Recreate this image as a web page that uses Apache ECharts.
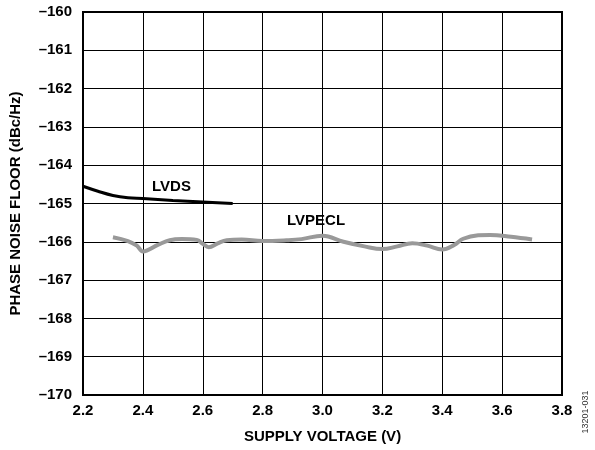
<!DOCTYPE html>
<html>
<head>
<meta charset="utf-8">
<script src="https://cdn.jsdelivr.net/npm/echarts@6/dist/echarts.min.js"></script>
<style>
  html, body { margin: 0; padding: 0; background: #fff; }
  #chart { width: 595px; height: 450px; }
</style>
</head>
<body>
<div id="chart"></div>
<script>
// supply voltage (V) vs phase noise floor (dBc/Hz)
const lvdsX = [2.2, 2.25, 2.3, 2.35, 2.4, 2.5, 2.6, 2.7];
const lvdsY = [-164.55, -164.68, -164.79, -164.85, -164.87, -164.92, -164.96, -165.0];

const lvpeclX = [2.3, 2.35, 2.38, 2.4, 2.45, 2.49, 2.53, 2.58, 2.6, 2.62, 2.65, 2.68, 2.73, 2.8, 2.88,
  2.93, 3.0, 3.07, 3.14, 3.2, 3.25, 3.3, 3.35, 3.4, 3.44, 3.47, 3.52, 3.56, 3.63, 3.7];
const lvpeclY = [-165.88, -165.98, -166.1, -166.25, -166.08, -165.96, -165.93, -165.95, -166.05, -166.14,
  -166.04, -165.96, -165.94, -165.98, -165.96, -165.93, -165.84, -166.0, -166.12, -166.19, -166.12,
  -166.04, -166.1, -166.2, -166.08, -165.92, -165.83, -165.82, -165.87, -165.94];

const font = "'Liberation Sans', Arial, sans-serif";
const fmtNeg = v => (v < 0 ? "\u2013" + Math.abs(v) : String(v));

const chart = echarts.init(document.getElementById("chart"), null, { renderer: "canvas" });
chart.setOption({
  animation: false,
  backgroundColor: "#fff",
  grid: {
    left: 82, right: 33, top: 12, bottom: 55,
    show: true, borderColor: "#000", borderWidth: 2
  },
  xAxis: {
    type: "value",
    min: 2.2, max: 3.8, interval: 0.2,
    name: "SUPPLY VOLTAGE (V)",
    nameLocation: "middle",
    nameGap: 34,
    nameTextStyle: { fontFamily: font, fontWeight: "bold", fontSize: 15, color: "#000" },
    axisLine: { show: true, lineStyle: { color: "#000", width: 2 } },
    axisTick: { show: false },
    splitLine: { show: true, lineStyle: { color: "#000", width: 1 } },
    axisLabel: {
      margin: 8,
      fontFamily: font, fontWeight: "bold", fontSize: 15, color: "#000",
      formatter: v => v.toFixed(1)
    }
  },
  yAxis: {
    type: "value",
    min: -170, max: -160, interval: 1,
    name: "PHASE NOISE FLOOR (dBc/Hz)",
    nameLocation: "middle",
    nameRotate: 90,
    nameGap: 60,
    nameTextStyle: { fontFamily: font, fontWeight: "bold", fontSize: 15, color: "#000" },
    axisLine: { show: true, lineStyle: { color: "#000", width: 2 } },
    axisTick: { show: false },
    splitLine: { show: true, lineStyle: { color: "#000", width: 1 } },
    axisLabel: {
      margin: 11,
      fontFamily: font, fontWeight: "bold", fontSize: 15, color: "#000",
      formatter: fmtNeg
    }
  },
  series: [
    {
      name: "LVDS",
      type: "line",
      smooth: 0.4,
      showSymbol: false,
      data: lvdsX.map((x, i) => [x, lvdsY[i]]),
      lineStyle: { color: "#000", width: 3 },
      z: 3
    },
    {
      name: "LVPECL",
      type: "line",
      smooth: 0.4,
      showSymbol: false,
      data: lvpeclX.map((x, i) => [x, lvpeclY[i]]),
      lineStyle: { color: "#999", width: 4 },
      z: 2
    }
  ],
  graphic: [
    {
      type: "text", left: 152, top: 179,
      style: { text: "LVDS", font: "bold 15px " + font, fill: "#000" }
    },
    {
      type: "text", left: 287, top: 213,
      style: { text: "LVPECL", font: "bold 15px " + font, fill: "#000" }
    },
    {
      type: "text", x: 586, y: 412, rotation: Math.PI / 2,
      style: {
        text: "13201-031", font: "9px " + font, fill: "#333",
        align: "center", verticalAlign: "middle"
      }
    }
  ]
});
</script>
</body>
</html>
